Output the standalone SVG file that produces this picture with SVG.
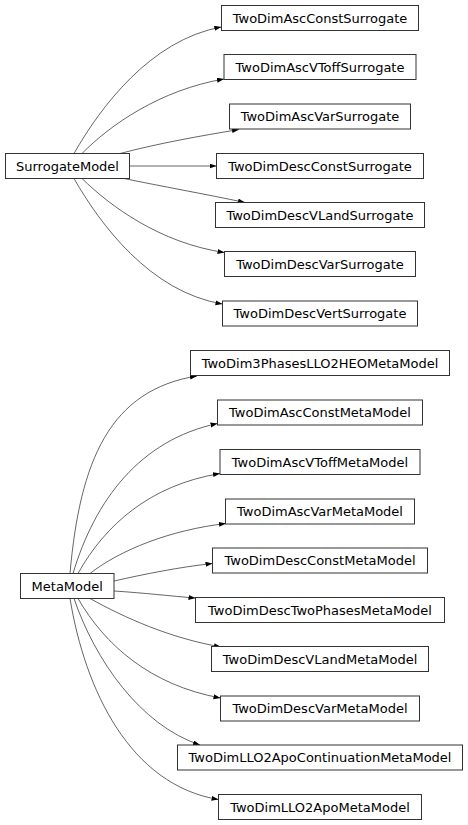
<svg xmlns="http://www.w3.org/2000/svg" width="468" height="825" viewBox="0 0 468 825">
<style>
.node rect{fill:#fff;stroke:#333;stroke-width:1}
.node text{font-family:"DejaVu Sans","Liberation Sans",sans-serif;font-size:13px;fill:#000;text-anchor:middle}
#edges path{fill:none;stroke:#333;stroke-width:0.75;marker-end:url(#arr)}
</style>
<defs>
<marker id="arr" markerUnits="userSpaceOnUse" markerWidth="10" markerHeight="8" refX="7" refY="2.5" orient="auto">
<path d="M0,0 L7,2.5 L0,5 z" fill="#000"/>
</marker>
</defs>
<rect width="468" height="825" fill="#fff"/>
<g id="edges">
<path d="M74,153.5 C100,108 150,40 221.3,27"/>
<path d="M82,153.5 C110,125 160,90 224,79"/>
<path d="M120,153.5 C160,143 200,136 239,129.5"/>
<path d="M129.5,166 L216.5,166"/>
<path d="M124,178.5 C160,186 205,194 245,202.5"/>
<path d="M82,178.5 C110,206 160,243 224.5,252.5"/>
<path d="M74,178.5 C100,224 150,292 222.5,304"/>
<path d="M70,573.5 C80,460 110,390 197,376"/>
<path d="M73,573.5 C95,500 140,440 217.5,423.5"/>
<path d="M78,573.5 C105,525 150,485 220,473.5"/>
<path d="M90,573.5 C120,550 170,530 226,523.5"/>
<path d="M114,581 C145,574 180,567 212.5,563.5"/>
<path d="M114,591 C145,593 170,596 195.5,598"/>
<path d="M90,598.5 C125,618 170,638 221,647"/>
<path d="M78,598.5 C105,645 150,685 220.5,698"/>
<path d="M74,598.5 C95,660 140,725 200,745"/>
<path d="M70,598.5 C85,690 130,785 218.5,799.5"/>
</g>
<g id="SurrogateModel" class="node"><rect x="5.5" y="153.5" width="124" height="25"/><text x="67.5" y="170.5">SurrogateModel</text></g>
<g id="TwoDimAscConstSurrogate" class="node"><rect x="221.5" y="5.5" width="197" height="25"/><text x="320" y="22.5">TwoDimAscConstSurrogate</text></g>
<g id="TwoDimAscVToffSurrogate" class="node"><rect x="224" y="54.5" width="192" height="25"/><text x="320" y="71.5">TwoDimAscVToffSurrogate</text></g>
<g id="TwoDimAscVarSurrogate" class="node"><rect x="229.5" y="104" width="181" height="25"/><text x="320" y="121">TwoDimAscVarSurrogate</text></g>
<g id="TwoDimDescConstSurrogate" class="node"><rect x="216.5" y="153.5" width="207" height="25"/><text x="320" y="170.5">TwoDimDescConstSurrogate</text></g>
<g id="TwoDimDescVLandSurrogate" class="node"><rect x="215.5" y="202.5" width="209" height="25"/><text x="320" y="219.5">TwoDimDescVLandSurrogate</text></g>
<g id="TwoDimDescVarSurrogate" class="node"><rect x="224.5" y="251.5" width="191" height="25"/><text x="320" y="268.5">TwoDimDescVarSurrogate</text></g>
<g id="TwoDimDescVertSurrogate" class="node"><rect x="222.5" y="301" width="195" height="25"/><text x="320" y="318">TwoDimDescVertSurrogate</text></g>
<g id="MetaModel" class="node"><rect x="20.5" y="573.5" width="93.5" height="25"/><text x="67.25" y="590.5">MetaModel</text></g>
<g id="TwoDim3PhasesLLO2HEOMetaModel" class="node"><rect x="190.5" y="350.5" width="259" height="25"/><text x="320" y="367.5">TwoDim3PhasesLLO2HEOMetaModel</text></g>
<g id="TwoDimAscConstMetaModel" class="node"><rect x="217.5" y="400" width="205" height="25"/><text x="320" y="417">TwoDimAscConstMetaModel</text></g>
<g id="TwoDimAscVToffMetaModel" class="node"><rect x="220" y="449.5" width="200" height="25"/><text x="320" y="466.5">TwoDimAscVToffMetaModel</text></g>
<g id="TwoDimAscVarMetaModel" class="node"><rect x="225.5" y="499" width="189" height="25"/><text x="320" y="516">TwoDimAscVarMetaModel</text></g>
<g id="TwoDimDescConstMetaModel" class="node"><rect x="212.5" y="548" width="215" height="25"/><text x="320" y="565">TwoDimDescConstMetaModel</text></g>
<g id="TwoDimDescTwoPhasesMetaModel" class="node"><rect x="195.5" y="597.5" width="249" height="25"/><text x="320" y="614.5">TwoDimDescTwoPhasesMetaModel</text></g>
<g id="TwoDimDescVLandMetaModel" class="node"><rect x="211.5" y="646.5" width="217" height="25"/><text x="320" y="663.5">TwoDimDescVLandMetaModel</text></g>
<g id="TwoDimDescVarMetaModel" class="node"><rect x="220.5" y="696" width="199" height="25"/><text x="320" y="713">TwoDimDescVarMetaModel</text></g>
<g id="TwoDimLLO2ApoContinuationMetaModel" class="node"><rect x="177.5" y="745" width="285" height="25"/><text x="320" y="762">TwoDimLLO2ApoContinuationMetaModel</text></g>
<g id="TwoDimLLO2ApoMetaModel" class="node"><rect x="218.5" y="794.5" width="203" height="25"/><text x="320" y="811.5">TwoDimLLO2ApoMetaModel</text></g>
</svg>
